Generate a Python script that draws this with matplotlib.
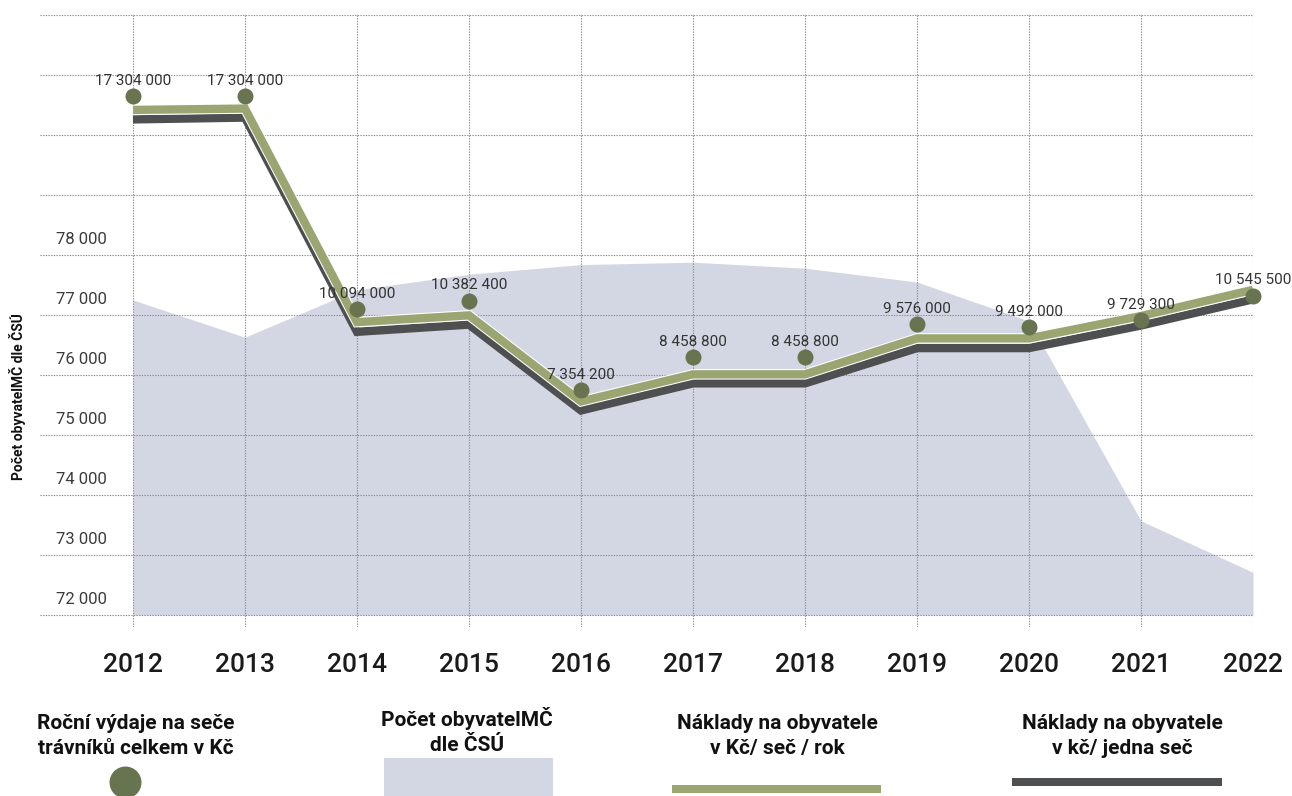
import matplotlib
matplotlib.use('Agg')
import matplotlib.pyplot as plt
import matplotlib.patheffects as pe
import matplotlib.transforms as mtransforms
from matplotlib.patches import Rectangle
from matplotlib.lines import Line2D

plt.rcParams['font.family'] = ['Roboto', 'DejaVu Sans']

# Data
roky = [2012, 2013, 2014, 2015, 2016, 2017, 2018, 2019, 2020, 2021, 2022]
obyvatele = [77250, 76630, 77420, 77680, 77840, 77880, 77780, 77550, 76900, 73570, 72710]
vydaje = [17304000, 17304000, 10094000, 10382400, 7354200, 8458800, 8458800,
          9576000, 9492000, 9729300, 10545500]
naklady_rok = [224.0, 224.6, 130.1, 133.1, 95.0, 107.0, 107.0, 122.9, 122.9, 132.8, 144.4]
naklady_sec = [56.0, 56.2, 32.5, 33.3, 23.8, 26.8, 26.8, 30.7, 30.7, 33.2, 36.1]
ytick_hodnoty = [72000, 73000, 74000, 75000, 76000, 77000, 78000]

# Colours
c_area = '#d3d7e3'
c_green = '#9ba572'
c_dark = '#4e4f51'
c_dot = '#68734f'
c_grid = '#8a8a8a'

def fmt(v):
    return f'{v:,}'.replace(',', ' ')

W, H = 1292, 796
fig = plt.figure(figsize=(W / 100, H / 100), dpi=100)
rect = [40 / W, 1 - 627 / H, (1253 - 40) / W, (627 - 15) / H]

# population area (base axes, carries the grid)
ax = fig.add_axes(rect)
ax.fill_between(roky, 72000, obyvatele, color=c_area, linewidth=0, zorder=1)
ax.set_xlim(2011.17, 2022)
ax.set_ylim(71800, 82000)
ax.set_xticks(roky)
ax.set_xticklabels([str(r) for r in roky], fontsize=19, fontweight='medium', color='#1a1a1a')
ax.set_yticks(range(72000, 82001, 1000))
ax.set_yticklabels([])
ax.tick_params(axis='both', length=0)
ax.tick_params(axis='x', pad=19)
ax.grid(True, color=c_grid, linestyle=(0, (1.2, 1.2)), linewidth=0.8)
for s in ax.spines.values():
    s.set_visible(False)

# y labels sit above their gridlines
trans = mtransforms.blended_transform_factory(ax.transAxes, ax.transData)
for v in ytick_hodnoty:
    ax.annotate(fmt(v), xy=(67 / (1253 - 40), v), xycoords=trans,
                xytext=(0, 11), textcoords='offset points',
                ha='right', va='center', fontsize=12, color='#3c3c3c')

fig.text(18 / W, 1 - 397 / H, 'Počet obyvatelMČ dle ČSÚ', rotation=90,
         ha='center', va='center', fontsize=10, fontweight='bold', color='#111111')

# cost per inhabitant per mow (dark)
ax_dark = fig.add_axes(rect, sharex=ax)
ax_dark.patch.set_visible(False)
ax_dark.plot(roky, naklady_sec, color=c_dark, linewidth=6,
             solid_joinstyle='miter', solid_capstyle='butt')
ax_dark.set_ylim(-0.15, 67.55)
ax_dark.set_axis_off()

# cost per inhabitant per year (green)
ax_green = fig.add_axes(rect, sharex=ax)
ax_green.patch.set_visible(False)
ax_green.plot(roky, naklady_rok, color=c_green, linewidth=6,
              solid_joinstyle='miter', solid_capstyle='butt',
              path_effects=[pe.Stroke(linewidth=7.5, foreground='white'), pe.Normal()])
ax_green.set_ylim(-4.8, 266.0)
ax_green.set_axis_off()

# yearly expenses (dots + labels)
ax_dots = fig.add_axes(rect, sharex=ax)
ax_dots.patch.set_visible(False)
ax_dots.plot(roky, vydaje, linestyle='none', marker='o', markersize=10.5,
             color=c_dot, clip_on=False)
for r, v in zip(roky, vydaje):
    ax_dots.annotate(fmt(v), xy=(r, v), xytext=(0, 11), textcoords='offset points',
                     ha='center', va='center', fontsize=11, fontweight='normal',
                     color='#333333', annotation_clip=False)
ax_dots.set_ylim(-0.67e6, 20.05e6)
ax_dots.set_axis_off()

# custom legend along the bottom
leg_font = dict(ha='center', va='center', fontsize=15, fontweight='bold',
                color='#111111', linespacing=1.45)
fig.text(136 / W, 1 - 736 / H, 'Roční výdaje na seče\ntrávníků celkem v Kč', **leg_font)
fig.text(467 / W, 1 - 731 / H, 'Počet obyvatelMČ\ndle ČSÚ', **leg_font)
fig.text(777 / W, 1 - 736 / H, 'Náklady na obyvatele\nv Kč/ seč / rok', **leg_font)
fig.text(1122 / W, 1 - 736 / H, 'Náklady na obyvatele\nv kč/ jedna seč', **leg_font)

fig.add_artist(Line2D([125 / W], [1 - 782 / H], transform=fig.transFigure,
                      marker='o', markersize=22, color=c_dot, linestyle='none'))
fig.add_artist(Rectangle((384 / W, 0), 169 / W, 38 / H, transform=fig.transFigure,
                         color=c_area, linewidth=0))
fig.add_artist(Rectangle((672 / W, 3 / H), 209 / W, 8 / H, transform=fig.transFigure,
                         color=c_green, linewidth=0))
fig.add_artist(Rectangle((1012 / W, 10 / H), 210 / W, 8 / H, transform=fig.transFigure,
                         color=c_dark, linewidth=0))

fig.savefig('out.png', dpi=100, facecolor='white')
